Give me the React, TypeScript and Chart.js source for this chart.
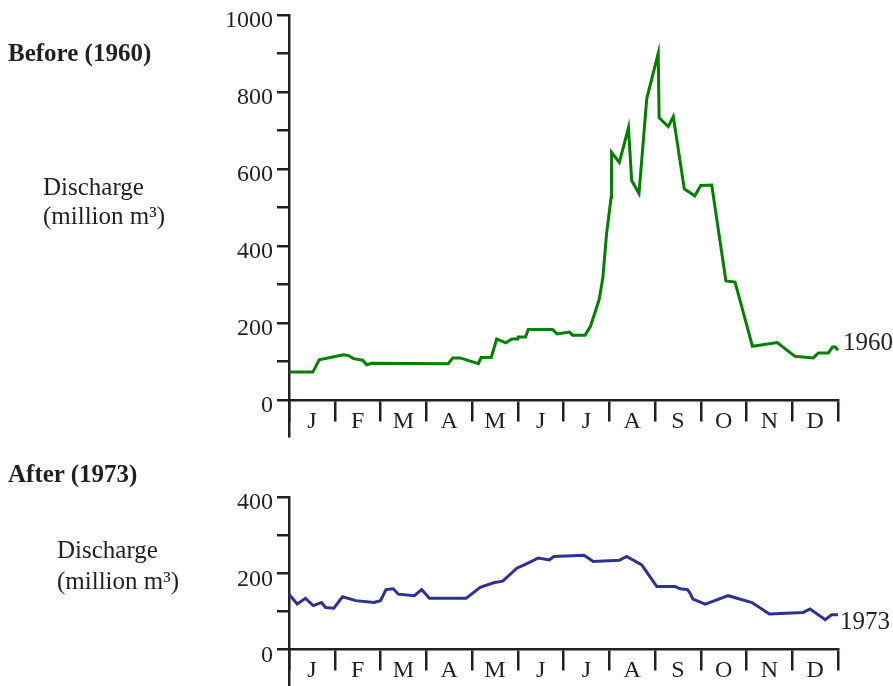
import React, { useEffect, useRef } from "react";
import { Chart, registerables } from "chart.js";

Chart.register(...registerables);

const months = ["J", "F", "M", "A", "M", "J", "J", "A", "S", "O", "N", "D"];

// x = month position (0 = start of Jan, 12 = end of Dec), y = discharge (million m³)
const before1960X = [0, 0.52, 0.66, 1.19, 1.3, 1.41, 1.61, 1.7, 1.81, 3.48, 3.58, 3.74, 4.14, 4.2, 4.42, 4.54, 4.74, 4.87, 5.0, 5.01, 5.17, 5.23, 5.76, 5.86, 6.13, 6.2, 6.47, 6.59, 6.78, 6.86, 6.94, 7.04, 7.05, 7.22, 7.42, 7.49, 7.65, 7.82, 8.07, 8.09, 8.29, 8.4, 8.64, 8.87, 9.0, 9.24, 9.55, 9.75, 10.13, 10.67, 11.06, 11.46, 11.57, 11.79, 11.88, 11.94, 12.0];
const before1960Y = [72, 72, 104, 117, 115, 107, 103, 91, 95, 94, 109, 109, 94, 110, 110, 158, 148, 158, 158, 163, 163, 183, 183, 171, 176, 168, 168, 191, 261, 317, 430, 526, 643, 617, 707, 570, 536, 783, 900, 733, 710, 736, 548, 530, 557, 558, 309, 306, 139, 149, 113, 109, 122, 122, 137, 137, 129];

const after1973X = [0, 0.18, 0.36, 0.53, 0.71, 0.8, 0.98, 1.17, 1.46, 1.86, 2.0, 2.12, 2.28, 2.39, 2.74, 2.9, 3.07, 3.87, 4.18, 4.47, 4.67, 4.98, 5.2, 5.45, 5.69, 5.79, 6.45, 6.65, 7.22, 7.38, 7.71, 8.04, 8.44, 8.55, 8.71, 8.77, 8.83, 9.1, 9.6, 10.12, 10.5, 11.24, 11.39, 11.72, 11.86, 12.0];
const after1973Y = [145, 119, 134, 115, 123, 110, 108, 138, 128, 123, 128, 157, 159, 145, 141, 157, 134, 134, 163, 175, 179, 213, 225, 240, 235, 244, 247, 231, 234, 244, 222, 165, 165, 159, 157, 147, 132, 119, 141, 123, 93, 97, 106, 78, 91, 91];

const topTicks = [0, 100, 200, 300, 400, 500, 600, 700, 800, 900, 1000];
const bottomTicks = [0, 100, 200, 300, 400];

const INK = "#231f20";
const FONT = "'Liberation Serif', 'Times New Roman', serif";

function makeConfig(xs: number[], ys: number[], color: string, ticks: number[], yMin: number, yMax: number, padTop: number, padBottom: number) {
  return {
    type: "line" as const,
    data: {
      datasets: [
        {
          data: xs.map((x, i) => ({ x, y: ys[i] })),
          borderColor: color,
          borderWidth: 3,
          pointRadius: 0,
          tension: 0,
          fill: false,
          xAxisID: "xv",
          yAxisID: "y",
          clip: false as any,
        },
      ],
    },
    options: {
      animation: false as const,
      responsive: false,
      maintainAspectRatio: false,
      layout: { padding: { left: 0, right: 55, top: padTop, bottom: padBottom } },
      plugins: { legend: { display: false }, tooltip: { enabled: false } },
      scales: {
        xv: { type: "linear" as const, display: false, min: 0, max: 12 },
        x: {
          type: "category" as const,
          labels: months,
          offset: true,
          position: { y: 0 },
          afterFit: (s: any) => { s.paddingLeft = 0; s.paddingRight = 0; s.paddingTop = 0; s.paddingBottom = 0; },
          border: { display: true, color: INK, width: 2.5 },
          grid: { offset: true, drawOnChartArea: false, drawTicks: true, tickLength: 20, color: INK, lineWidth: 2.5 },
          ticks: { color: INK, font: { family: FONT, size: 24 }, padding: -13, maxRotation: 0, autoSkip: false },
        },
        y: {
          type: "linear" as const,
          position: "left" as const,
          min: yMin,
          max: yMax,
          afterFit: (s: any) => { s.width = 289; s.paddingTop = 0; s.paddingBottom = 0; },
          afterBuildTicks: (s: any) => { s.ticks = ticks.map((v) => ({ value: v })); },
          border: { display: true, color: INK, width: 2.5 },
          grid: { drawOnChartArea: false, drawTicks: true, tickLength: 12, color: INK, lineWidth: 2.5 },
          ticks: {
            color: INK,
            font: { family: FONT, size: 24 },
            padding: 4,
            labelOffset: 6,
            callback: (v: any) => (Number(v) % 200 === 0 ? String(v) : ""),
          },
        },
      },
    },
  };
}

function ChartCanvas(props: { cfg: any; top: number; height: number }) {
  const ref = useRef<HTMLCanvasElement | null>(null);
  useEffect(() => {
    if (!ref.current) return;
    const c = new Chart(ref.current, props.cfg);
    return () => c.destroy();
  }, []);
  return (
    <canvas
      ref={ref}
      width={893}
      height={props.height}
      style={{ position: "absolute", left: 0, top: props.top, width: 893, height: props.height }}
    />
  );
}

const textStyle: React.CSSProperties = {
  position: "absolute",
  fontFamily: FONT,
  color: INK,
  whiteSpace: "nowrap",
  lineHeight: 1,
};

export default function App() {
  const topCfg = makeConfig(before1960X, before1960Y, "#008000", topTicks, -94, 1000, 15, 4);
  const botCfg = makeConfig(after1973X, after1973Y, "#2e3192", bottomTicks, -96, 400, 57, 0);
  return (
    <div style={{ position: "fixed", left: 0, top: 0, width: 893, height: 686, background: "#fff", overflow: "hidden" }}>
      <ChartCanvas cfg={topCfg} top={0} height={440} />
      <ChartCanvas cfg={botCfg} top={440} height={246} />
      <div style={{ ...textStyle, left: 8, top: 40, fontSize: 25, fontWeight: "bold" }}>Before (1960)</div>
      <div style={{ ...textStyle, left: 43, top: 172, fontSize: 25, lineHeight: "29px" }}>
        Discharge<br />(million m³)
      </div>
      <div style={{ ...textStyle, left: 843, top: 329, fontSize: 25 }}>1960</div>
      <div style={{ ...textStyle, left: 8, top: 461, fontSize: 25, fontWeight: "bold" }}>After (1973)</div>
      <div style={{ ...textStyle, left: 57, top: 534, fontSize: 25, lineHeight: "31px" }}>
        Discharge<br />(million m³)
      </div>
      <div style={{ ...textStyle, left: 840, top: 608, fontSize: 25 }}>1973</div>
    </div>
  );
}
